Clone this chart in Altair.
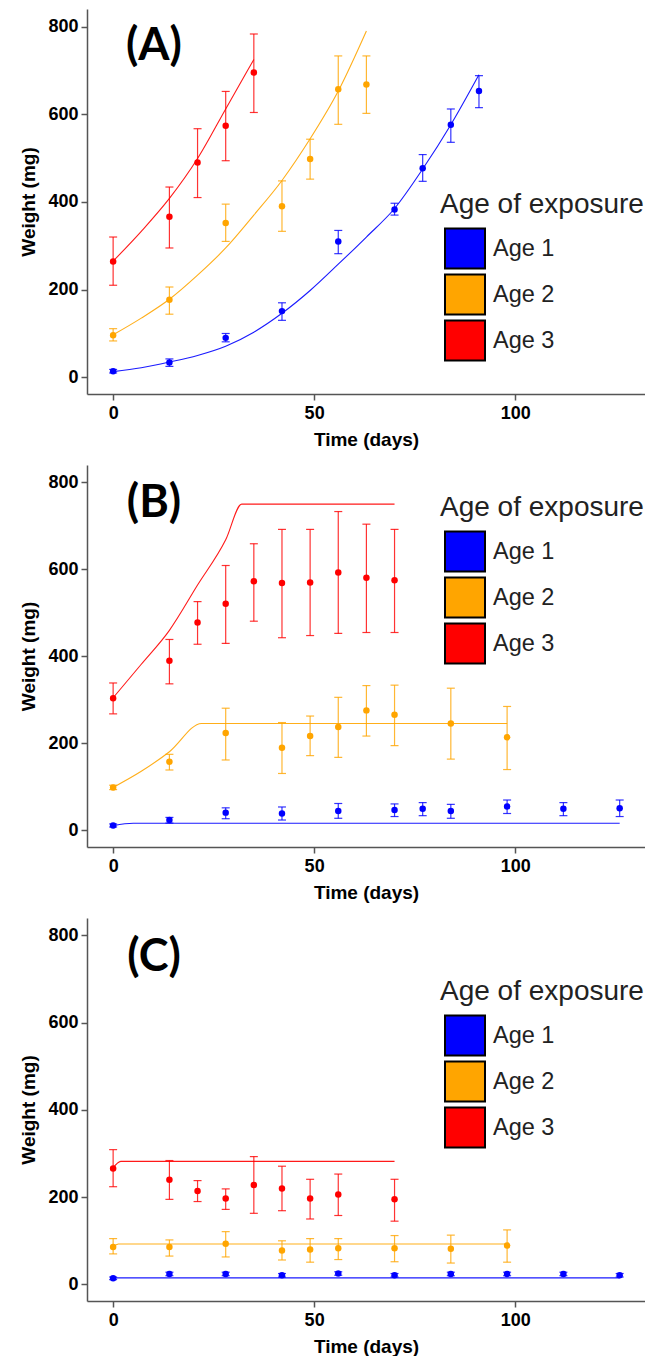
import altair as alt
import pandas as pd

AGES = ["Age 1", "Age 2", "Age 3"]
COLORS = ["#0000FF", "#FFA500", "#FF0000"]
LEGEND_TITLE = "Age of exposure"

# ---------------- Panel A ----------------
A1_day = [0, 14, 28, 42, 56, 70, 77, 84, 91]
A1_mean = [14, 34, 90, 151, 310, 383, 477, 576, 653]
A1_lo = [10, 25, 81, 130, 282, 370, 447, 536, 615]
A1_hi = [18, 42, 100, 170, 335, 397, 508, 612, 688]
A2_day = [0, 14, 28, 42, 49, 56, 63]
A2_mean = [96, 177, 352, 390, 498, 657, 668]
A2_lo = [83, 144, 310, 333, 452, 577, 602]
A2_hi = [111, 206, 395, 448, 543, 733, 733]
A3_day = [0, 14, 21, 28, 35]
A3_mean = [264, 366, 490, 574, 695]
A3_lo = [210, 295, 410, 494, 604]
A3_hi = [320, 434, 567, 652, 783]

A1_fit_day = [0, 7, 14, 21, 28, 35, 42, 49, 56, 63, 70, 77, 84, 91]
A1_fit = [13, 22, 35, 50, 71, 103, 146, 198, 258, 320, 385, 475, 576, 690]
A2_fit_day = [0, 7, 14, 21, 28, 35, 42, 49, 56, 63]
A2_fit = [97, 135, 178, 233, 295, 370, 449, 544, 653, 790]
A3_fit_day = [0, 7, 14, 21, 28, 35]
A3_fit = [265, 333, 408, 499, 612, 725]

# ---------------- Panel B ----------------
B1_day = [0, 14, 28, 42, 56, 70, 77, 84, 98, 112, 126]
B1_mean = [11.5, 24, 41, 39, 45, 47, 50, 45, 55, 50, 51]
B1_lo = [8, 17, 27, 24, 28, 32, 34, 28, 39, 34, 32]
B1_hi = [15, 30, 52, 54, 62, 61, 64, 60, 70, 64, 70]
B2_day = [0, 14, 28, 42, 49, 56, 63, 70, 84, 98]
B2_mean = [99, 158, 224, 190, 217, 238, 276, 266, 246, 214]
B2_lo = [94, 139, 162, 131, 172, 168, 217, 195, 164, 140]
B2_hi = [104, 175, 281, 248, 263, 306, 333, 334, 327, 285]
B3_day = [0, 14, 21, 28, 35, 42, 49, 56, 63, 70]
B3_mean = [304, 390, 478, 521, 573, 569, 570, 593, 581, 575]
B3_lo = [268, 337, 428, 430, 481, 443, 448, 453, 455, 455]
B3_hi = [339, 439, 526, 609, 659, 692, 692, 733, 704, 692]

B1_fit_day = [0, 5, 126]
B1_fit = [11, 16.5, 16.5]
B2_fit_day = [0, 7, 14, 22, 98]
B2_fit = [99, 136, 181, 246, 246]
B3_fit_day = [0, 7, 14, 21, 28, 32, 70]
B3_fit = [305, 382, 460, 564, 668, 750, 750]

# ---------------- Panel C ----------------
C1_day = [0, 14, 28, 42, 56, 70, 84, 98, 112, 126]
C1_mean = [14, 24, 24, 21, 25, 21, 24, 24, 24, 21]
C1_lo = [11, 20, 20, 17, 21, 17, 20, 20, 20, 17]
C1_hi = [17, 28, 28, 25, 29, 25, 28, 28, 28, 25]
C2_day = [0, 14, 28, 42, 49, 56, 70, 84, 98]
C2_mean = [86, 86, 93, 78, 80, 83, 83, 82, 89]
C2_lo = [70, 65, 63, 56, 51, 57, 52, 49, 51]
C2_hi = [105, 102, 121, 100, 105, 105, 112, 113, 125]
C3_day = [0, 14, 21, 28, 35, 42, 49, 56, 70]
C3_mean = [266, 240, 214, 197, 228, 220, 197, 206, 195]
C3_lo = [224, 195, 190, 172, 163, 169, 150, 158, 145]
C3_hi = [309, 284, 238, 219, 293, 271, 241, 253, 241]

C1_fit_day = [0, 126]
C1_fit = [15, 15]
C2_fit_day = [0, 1.3, 98]
C2_fit = [86.5, 92.5, 92.5]
C3_fit_day = [0, 1.9, 70]
C3_fit = [267, 282, 282]

PLOT_W = 558
X_MAX = 132.3

# legend layout (pixels inside each panel)
LEG_TITLE_X = 353
LEG_SWATCH_X = 378
LEG_LABEL_X = 406
LEG_ROW = 46
LEG_FIRST_ROW = 43.5


def make_panel(label, series, fits, legend_title_y, label_y, plot_h):
    rows = []
    for age, (d, m, lo, hi) in zip(AGES, series):
        for i in range(len(d)):
            rows.append({"age": age, "day": d[i], "mean": m[i], "lo": lo[i], "hi": hi[i]})
    pts = pd.DataFrame(rows)
    frows = []
    for age, (d, w) in zip(AGES, fits):
        for i in range(len(d)):
            frows.append({"age": age, "day": d[i], "w": w[i]})
    fit = pd.DataFrame(frows)

    xs = alt.Scale(domain=[-6.5, X_MAX], nice=False, zero=False)
    ys = alt.Scale(domain=[-38, 840], nice=False, zero=False)
    xax = alt.Axis(title="Time (days)", values=[0, 50, 100])
    yax = alt.Axis(title="Weight (mg)", values=[0, 200, 400, 600, 800])
    X = alt.X("day:Q", scale=xs, axis=xax)
    col = alt.Color("age:N", scale=alt.Scale(domain=AGES, range=COLORS), legend=None)

    line = alt.Chart(fit).mark_line(strokeWidth=1.1, interpolate="monotone", opacity=0.9).encode(
        x=X, y=alt.Y("w:Q", scale=ys, axis=yax), color=col, detail="age:N"
    )
    bars = alt.Chart(pts).mark_rule(strokeWidth=1.2, opacity=0.8).encode(
        x=X, y=alt.Y("lo:Q", scale=ys, axis=yax), y2="hi:Q", color=col
    )
    cap_lo = alt.Chart(pts).mark_tick(orient="horizontal", size=8, thickness=1.2, opacity=0.8).encode(
        x=X, y=alt.Y("lo:Q", scale=ys, axis=yax), color=col
    )
    cap_hi = alt.Chart(pts).mark_tick(orient="horizontal", size=8, thickness=1.2, opacity=0.8).encode(
        x=X, y=alt.Y("hi:Q", scale=ys, axis=yax), color=col
    )
    points = alt.Chart(pts).mark_circle(size=42, opacity=1).encode(
        x=X, y=alt.Y("mean:Q", scale=ys, axis=yax), color=col
    )
    lab = alt.Chart(pd.DataFrame({"t": [label]})).mark_text(
        font="Lato", fontSize=45, fontWeight="bold", color="black", align="center", baseline="middle"
    ).encode(text="t:N", x=alt.value(67), y=alt.value(label_y))

    # legend built from the category list
    leg_df = pd.DataFrame({"age": AGES, "i": list(range(len(AGES)))})
    first = legend_title_y + LEG_FIRST_ROW
    leg_base = alt.Chart(leg_df).transform_calculate(
        py=f"{first} + {LEG_ROW} * datum.i"
    )
    swatch = leg_base.mark_square(
        size=1600, filled=True, stroke="black", strokeWidth=2, opacity=1
    ).encode(
        x=alt.value(LEG_SWATCH_X),
        y=alt.Y("py:Q", scale=None),
        color=col,
    )
    leg_text = leg_base.mark_text(
        font="Liberation Sans", fontSize=23.5, color="#222222", align="left", baseline="middle"
    ).encode(x=alt.value(LEG_LABEL_X), y=alt.Y("py:Q", scale=None), text="age:N")
    leg_title = alt.Chart(pd.DataFrame({"t": [LEGEND_TITLE]})).mark_text(
        font="Liberation Sans", fontSize=28, color="#222222", align="left", baseline="middle"
    ).encode(text="t:N", x=alt.value(LEG_TITLE_X), y=alt.value(legend_title_y))

    return alt.layer(line, bars, cap_lo, cap_hi, points, lab, swatch, leg_text, leg_title).properties(
        width=PLOT_W, height=plot_h
    )


pA = make_panel(
    "(A)",
    [(A1_day, A1_mean, A1_lo, A1_hi), (A2_day, A2_mean, A2_lo, A2_hi), (A3_day, A3_mean, A3_lo, A3_hi)],
    [(A1_fit_day, A1_fit), (A2_fit_day, A2_fit), (A3_fit_day, A3_fit)],
    196, 37, 385,
)
pB = make_panel(
    "(B)",
    [(B1_day, B1_mean, B1_lo, B1_hi), (B2_day, B2_mean, B2_lo, B2_hi), (B3_day, B3_mean, B3_lo, B3_hi)],
    [(B1_fit_day, B1_fit), (B2_fit_day, B2_fit), (B3_fit_day, B3_fit)],
    43, 38, 382,
)
pC = make_panel(
    "(C)",
    [(C1_day, C1_mean, C1_lo, C1_hi), (C2_day, C2_mean, C2_lo, C2_hi), (C3_day, C3_mean, C3_lo, C3_hi)],
    [(C1_fit_day, C1_fit), (C2_fit_day, C2_fit), (C3_fit_day, C3_fit)],
    74, 39, 383,
)

chart = (
    alt.vconcat(pA, pB, pC, spacing=16)
    .resolve_scale(color="independent")
    .properties(padding={"left": 11, "top": 1, "right": 0, "bottom": 0})
    .configure_view(stroke=None)
    .configure_axis(
        grid=False,
        domainColor="#555555",
        tickColor="#555555",
        domainWidth=1.5,
        tickWidth=1.5,
        tickSize=6,
        labelFont="Liberation Sans",
        labelFontSize=18,
        labelFontWeight="bold",
        labelColor="black",
        titleFont="Liberation Sans",
        titleFontSize=19,
        titleFontWeight="bold",
        titleColor="black",
    )
    .configure_axisY(labelPadding=3, titlePadding=9)
    .configure_axisX(labelPadding=4, titlePadding=8)
)

chart.save("out.html", embed_options={"renderer": "svg", "actions": False})
